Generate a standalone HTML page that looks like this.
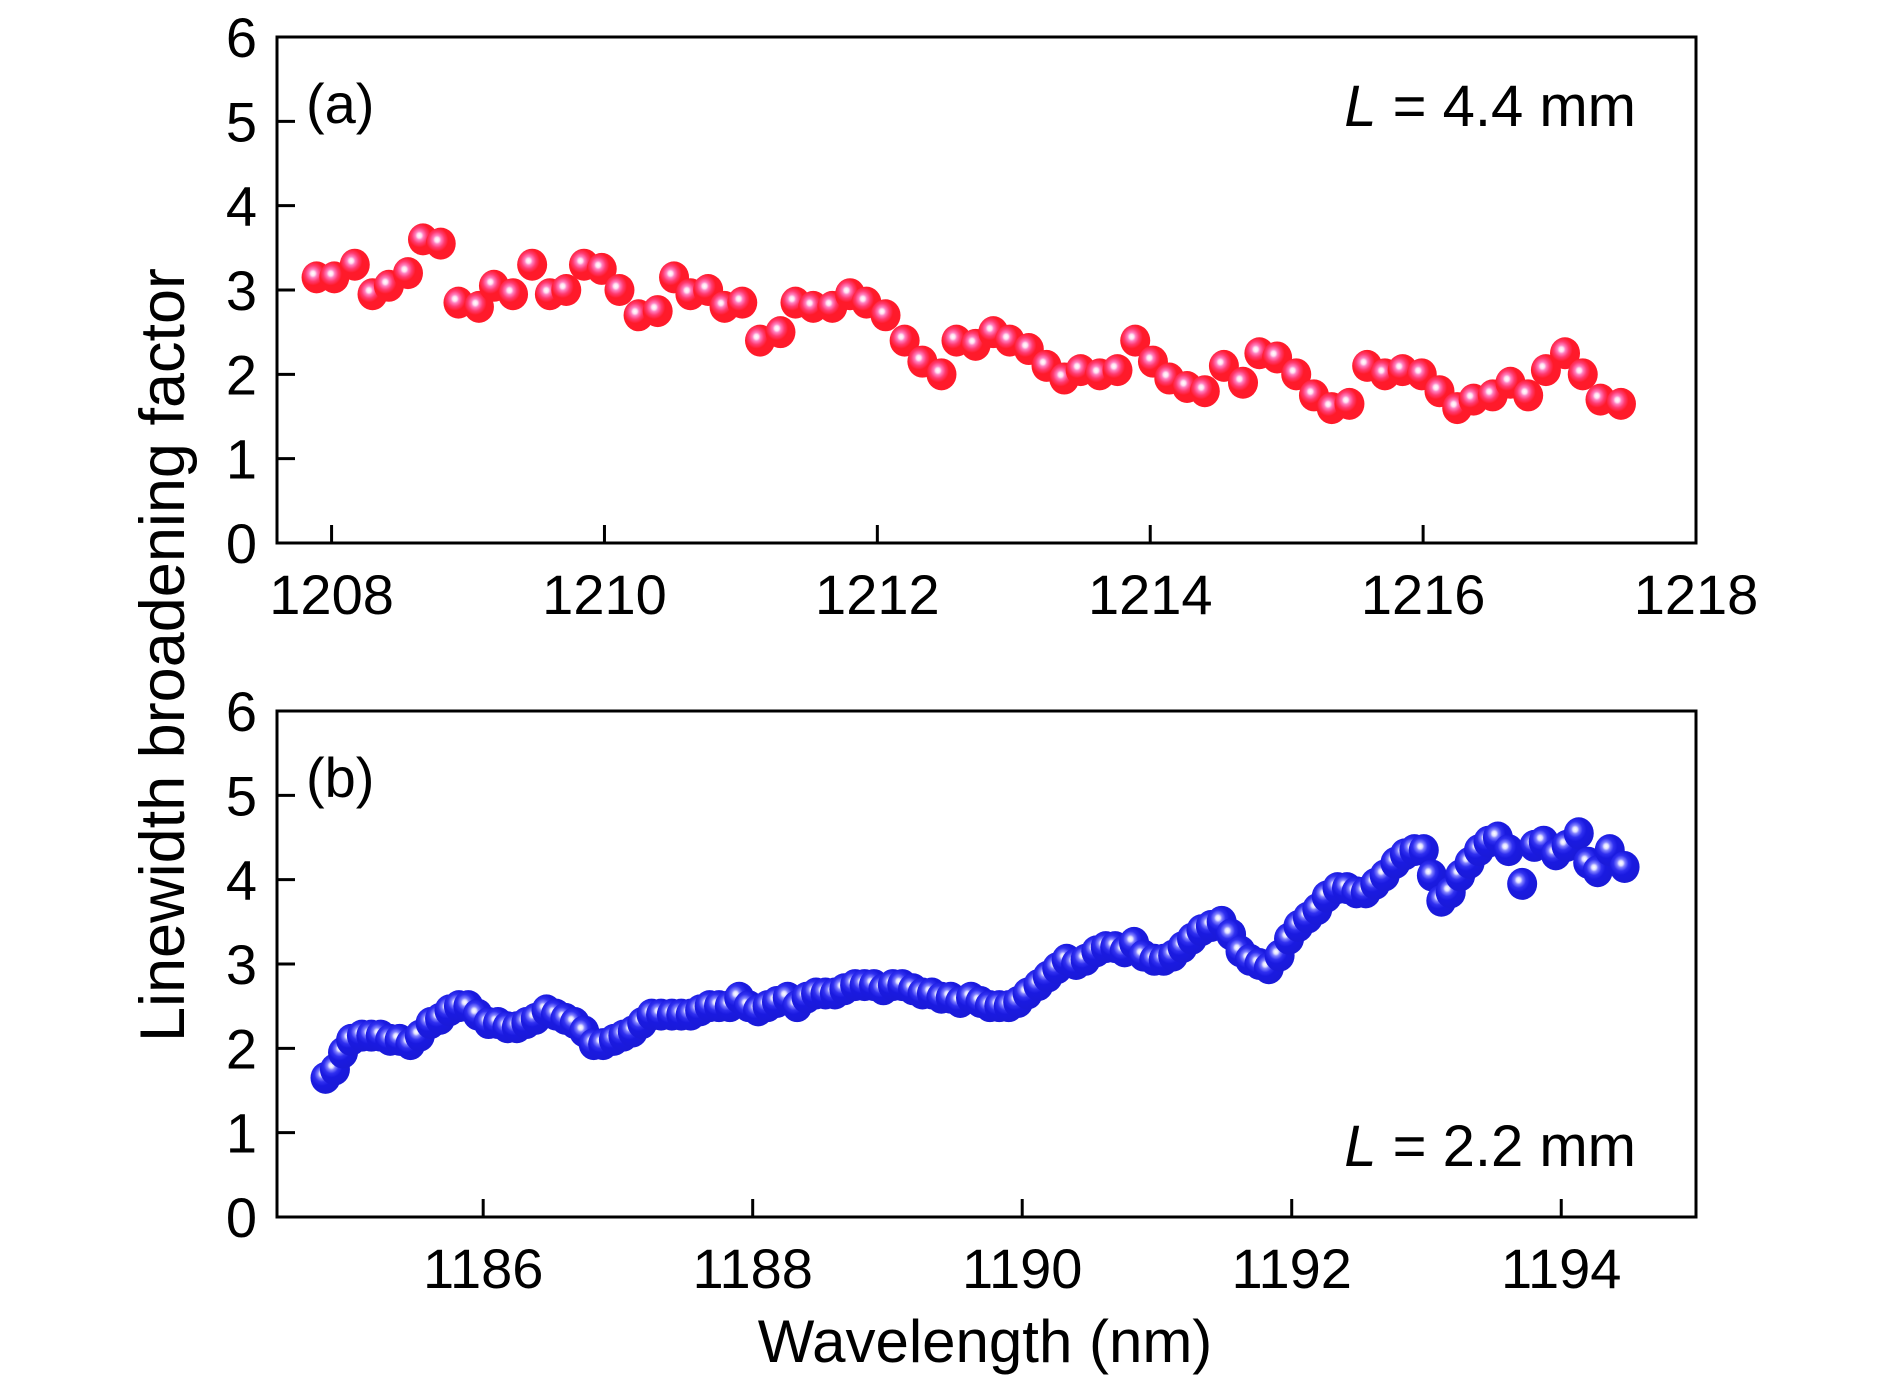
<!DOCTYPE html>
<html><head><meta charset="utf-8"><style>
html,body{margin:0;padding:0;background:#fff;}
svg{display:block;font-family:"Liberation Sans",sans-serif;}
</style></head><body>
<svg id="chart" width="1890" height="1380" viewBox="0 0 1890 1380" xmlns="http://www.w3.org/2000/svg">
<defs>
<radialGradient id="gr" cx="0.38" cy="0.38" r="0.62">
<stop offset="0" stop-color="#ffffff"/><stop offset="0.12" stop-color="#ffe0f0"/><stop offset="0.22" stop-color="#ff7fc0"/><stop offset="0.4" stop-color="#ff3a70"/><stop offset="0.6" stop-color="#ff1a2a"/><stop offset="1" stop-color="#ff1a2a"/>
</radialGradient>
<radialGradient id="gb" cx="0.38" cy="0.38" r="0.62">
<stop offset="0" stop-color="#ffffff"/><stop offset="0.12" stop-color="#e0e0ff"/><stop offset="0.22" stop-color="#8080ff"/><stop offset="0.4" stop-color="#3030f0"/><stop offset="0.6" stop-color="#1a1ae0"/><stop offset="1" stop-color="#1a1ad8"/>
</radialGradient>
</defs>
<g id="root"></g>
</svg>
<script>
const topWavelengths=[1207.89,1208.02,1208.17,1208.30,1208.42,1208.56,1208.67,1208.80,1208.93,1209.08,1209.19,1209.33,1209.47,1209.60,1209.72,1209.85,1209.98,1210.11,1210.25,1210.39,1210.51,1210.63,1210.76,1210.88,1211.01,1211.14,1211.29,1211.40,1211.53,1211.67,1211.80,1211.92,1212.06,1212.20,1212.33,1212.47,1212.58,1212.72,1212.85,1212.97,1213.11,1213.24,1213.37,1213.49,1213.63,1213.76,1213.89,1214.02,1214.14,1214.27,1214.40,1214.54,1214.68,1214.80,1214.93,1215.07,1215.20,1215.33,1215.46,1215.59,1215.72,1215.85,1215.99,1216.12,1216.25,1216.37,1216.51,1216.64,1216.77,1216.90,1217.04,1217.17,1217.30,1217.45];
const topValues=[3.15,3.15,3.3,2.95,3.05,3.2,3.6,3.55,2.85,2.8,3.05,2.95,3.3,2.95,3.0,3.3,3.25,3.0,2.7,2.75,3.15,2.95,3.0,2.8,2.85,2.4,2.5,2.85,2.8,2.8,2.95,2.85,2.7,2.4,2.15,2.0,2.4,2.35,2.5,2.4,2.3,2.1,1.95,2.05,2.0,2.05,2.4,2.15,1.95,1.85,1.8,2.1,1.9,2.25,2.2,2.0,1.75,1.6,1.65,2.1,2.0,2.05,2.0,1.8,1.6,1.7,1.75,1.9,1.75,2.05,2.25,2.0,1.7,1.65];
const botWavelengths=[1184.83,1184.90,1184.96,1185.02,1185.10,1185.17,1185.24,1185.31,1185.38,1185.46,1185.53,1185.61,1185.68,1185.75,1185.82,1185.89,1185.96,1186.04,1186.11,1186.18,1186.25,1186.32,1186.39,1186.47,1186.54,1186.61,1186.68,1186.75,1186.82,1186.89,1186.97,1187.04,1187.11,1187.18,1187.25,1187.32,1187.40,1187.47,1187.54,1187.61,1187.68,1187.75,1187.83,1187.90,1187.97,1188.04,1188.11,1188.18,1188.26,1188.33,1188.40,1188.47,1188.54,1188.61,1188.68,1188.76,1188.83,1188.90,1188.97,1189.04,1189.11,1189.19,1189.26,1189.33,1189.40,1189.47,1189.54,1189.62,1189.69,1189.76,1189.83,1189.90,1189.97,1190.04,1190.12,1190.19,1190.26,1190.33,1190.40,1190.47,1190.55,1190.62,1190.69,1190.76,1190.83,1190.90,1190.98,1191.05,1191.12,1191.19,1191.26,1191.33,1191.40,1191.48,1191.55,1191.62,1191.69,1191.76,1191.83,1191.91,1191.98,1192.05,1192.12,1192.19,1192.26,1192.34,1192.41,1192.48,1192.55,1192.62,1192.69,1192.77,1192.84,1192.91,1192.98,1193.04,1193.11,1193.18,1193.25,1193.32,1193.39,1193.46,1193.53,1193.61,1193.71,1193.80,1193.87,1193.96,1194.04,1194.13,1194.20,1194.27,1194.36,1194.47];
const botValues=[1.65,1.75,1.95,2.1,2.15,2.15,2.15,2.1,2.1,2.05,2.15,2.3,2.35,2.45,2.5,2.5,2.4,2.3,2.3,2.25,2.25,2.3,2.35,2.45,2.4,2.35,2.3,2.2,2.05,2.05,2.1,2.15,2.2,2.3,2.4,2.4,2.4,2.4,2.4,2.45,2.5,2.5,2.5,2.6,2.5,2.45,2.5,2.55,2.6,2.5,2.6,2.65,2.65,2.65,2.7,2.75,2.75,2.75,2.7,2.75,2.75,2.7,2.65,2.65,2.6,2.6,2.55,2.6,2.55,2.5,2.5,2.5,2.55,2.65,2.75,2.85,2.95,3.05,3.0,3.05,3.15,3.2,3.2,3.15,3.25,3.1,3.05,3.05,3.1,3.2,3.3,3.4,3.45,3.5,3.35,3.15,3.05,3.0,2.95,3.1,3.3,3.45,3.55,3.65,3.8,3.9,3.9,3.85,3.85,3.95,4.05,4.2,4.3,4.35,4.35,4.05,3.75,3.85,4.05,4.2,4.35,4.45,4.5,4.35,3.95,4.4,4.45,4.3,4.4,4.55,4.2,4.1,4.35,4.15];
const yTicks=[0,1,2,3,4,5,6];
const topXTicks=[1208,1210,1212,1214,1216,1218];
const botXTicks=[1186,1188,1190,1192,1194];

const NS="http://www.w3.org/2000/svg";
const root=document.getElementById('root');
function mk(tag,attrs,parent){const e=document.createElementNS(NS,tag);for(const k in attrs)e.setAttribute(k,attrs[k]);(parent||root).appendChild(e);return e;}

function panel(cfg){
  const g=mk('g',{});
  
  
  const L=277,R=1696,T=cfg.top,B=cfg.top+506;
  const xs=v=>L+(v-cfg.x0)/(cfg.x1-cfg.x0)*(R-L);
  const ys=v=>B-v/6*(B-T);
  const frame=mk('rect',{x:L,y:T,width:R-L,height:B-T,fill:'none',stroke:'#000','stroke-width':3},g);
  
  
  yTicks.forEach(t=>{
    const y=ys(t);
    const tk=mk('line',{x1:L,x2:L+18,y1:y,y2:y,stroke:'#000','stroke-width':3},g);
    
    
    const tx=mk('text',{x:L-20,y:y+20,'font-size':56,'text-anchor':'end'},g);
    tx.textContent=t;
    
    
  });
  cfg.xticks.forEach(t=>{
    const x=xs(t);
    const tk=mk('line',{x1:x,x2:x,y1:B,y2:B-18,stroke:'#000','stroke-width':3},g);
    
    
    const tx=mk('text',{x:x,y:B+71,'font-size':56,'text-anchor':'middle'},g);
    tx.textContent=t;
    
    
  });
  cfg.xv.forEach((v,i)=>{
    const c=mk('ellipse',{cx:xs(v),cy:ys(cfg.yv[i]),rx:15,ry:16,fill:cfg.grad},g);
    
    
  });
  const lab=mk('text',{x:306,y:T+86,'font-size':56},g);
  lab.textContent=cfg.label;
  
  
  const ann=mk('text',{x:1636,y:cfg.annY,'font-size':58,'text-anchor':'end'},g);
  ann.innerHTML='<tspan font-style="italic">L</tspan> = '+cfg.len+' mm';
  
  
}
panel({name:'panel-a',top:37,x0:1207.6,x1:1218,xticks:topXTicks,xv:topWavelengths,yv:topValues,grad:'url(#gr)',pt:'red-point',label:'(a)',len:'4.4',annY:126});
panel({name:'panel-b',top:711,x0:1184.47,x1:1195.0,xticks:botXTicks,xv:botWavelengths,yv:botValues,grad:'url(#gb)',pt:'blue-point',label:'(b)',len:'2.2',annY:1166});
const yt=mk('text',{x:0,y:0,'font-size':63,'text-anchor':'middle',transform:'translate(184,655) rotate(-90)'});
yt.textContent='Linewidth broadening factor';


const xt=mk('text',{x:985,y:1362,'font-size':60,'text-anchor':'middle'});
xt.textContent='Wavelength (nm)';


</script>
</body></html>
